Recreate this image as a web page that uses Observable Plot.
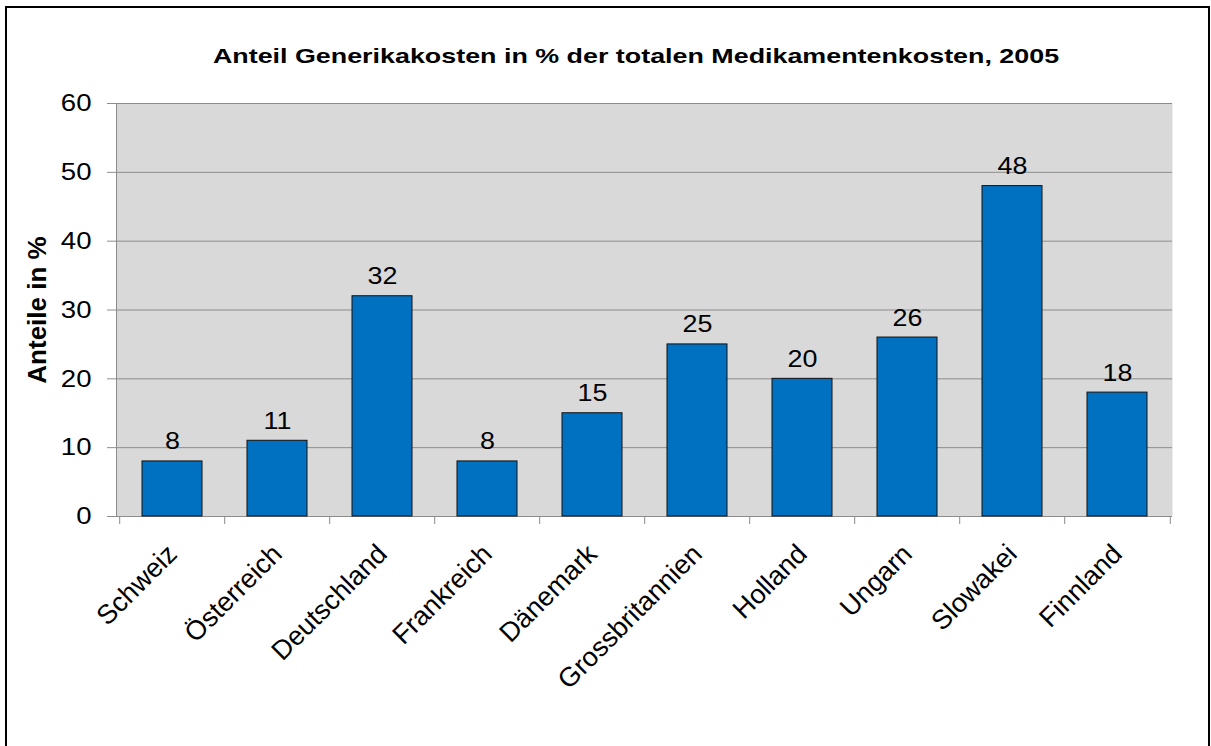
<!DOCTYPE html>
<html>
<head>
<meta charset="utf-8">
<script src="https://cdn.jsdelivr.net/npm/d3@7"></script>
<script src="https://cdn.jsdelivr.net/npm/@observablehq/plot@0.6"></script>
<style>
  html, body { margin: 0; padding: 0; background: #fff; overflow: hidden; }
  #wrap { position: relative; width: 1211px; height: 746px; }
  #frame { position: absolute; left: 5px; top: 6px; width: 1205px; height: 760px; border: 2px solid #000; box-sizing: border-box; }
  #title { position: absolute; left: 636px; top: 44px; white-space: nowrap;
           font-family: "Liberation Sans", Arial, sans-serif; font-weight: bold; font-size: 20.5px; color: #000;
           transform: translateX(-50%) scaleX(1.31); transform-origin: 50% 50%; }
  #chart { position: absolute; left: 0; top: 0; }
</style>
</head>
<body>
<div id="wrap">
  <div id="frame"></div>
  <div id="chart"></div>
  <div id="title">Anteil Generikakosten in % der totalen Medikamentenkosten, 2005</div>
</div>
<script>
const countries = ["Schweiz", "Österreich", "Deutschland", "Frankreich", "Dänemark", "Grossbritannien", "Holland", "Ungarn", "Slowakei", "Finnland"];
const shares = [8, 11, 32, 8, 15, 25, 20, 26, 48, 18];
const yTicks = [0, 10, 20, 30, 40, 50, 60];

const data = countries.map((c, i) => ({country: c, value: shares[i]}));

const W = 1211, H = 746;
const mL = 116, mR = 39, mT = 103, mB = 230;
const step = (W - mL - mR) / countries.length;

const plot = Plot.plot({
  width: W,
  height: H,
  marginLeft: mL,
  marginRight: mR,
  marginTop: mT,
  marginBottom: mB,
  style: {fontFamily: "'Liberation Sans', Arial, sans-serif", fontSize: "24px", color: "#000", background: "transparent"},
  x: {domain: countries, paddingInner: 0.43, paddingOuter: 0.215},
  y: {domain: [0, 60]},
  marks: [
    Plot.frame({fill: "#d9d9d9", stroke: null}),
    Plot.gridY(yTicks, {stroke: "#8c8c8c", strokeOpacity: 1, strokeWidth: 1}),
    Plot.frame({anchor: "left", stroke: "#8c8c8c", strokeWidth: 1}),
    Plot.ruleY([0], {stroke: "#8c8c8c", strokeWidth: 1}),
    Plot.axisY({ticks: yTicks, tickSize: 9, tickPadding: 16, stroke: "#8c8c8c", fontSize: 24, className: "ytick",
      label: null}),
    Plot.axisY({ticks: [], label: "Anteile in %", labelAnchor: "center", labelArrow: "none", labelOffset: 89, fontSize: 26, fontWeight: "bold"}),
    Plot.axisX({text: null, tickSize: 8, stroke: "#8c8c8c", dx: -step / 2, label: null}),
    Plot.axisX({ticks: [countries[countries.length - 1]], text: null, tickSize: 8, stroke: "#8c8c8c", dx: step / 2, label: null}),
    Plot.axisX({tickSize: 0, tickPadding: 33, tickRotate: -45, fontSize: 27, label: null}),
    Plot.barY(data, {x: "country", y: "value", fill: "#0070c0", stroke: "#111", strokeWidth: 1}),
    Plot.text(data, {x: "country", y: "value", text: d => String(d.value), lineAnchor: "bottom", dy: -12, fontSize: 24, fill: "#000", className: "vlabel"})
  ]
});

document.getElementById("chart").appendChild(plot);

// widen horizontal number glyphs slightly to match the reference's rendering
function stretch(sel, k) {
  plot.querySelectorAll(sel).forEach(t => {
    const len = t.getComputedTextLength();
    if (len > 0) {
      t.setAttribute("textLength", (len * k).toFixed(2));
      t.setAttribute("lengthAdjust", "spacingAndGlyphs");
    }
  });
}
stretch("g.ytick text", 1.15);
stretch("g.vlabel text", 1.12);
plot.querySelectorAll("g[aria-label='y-axis label'] text").forEach(t => t.setAttribute("font-weight", "bold"));
</script>
</body>
</html>
